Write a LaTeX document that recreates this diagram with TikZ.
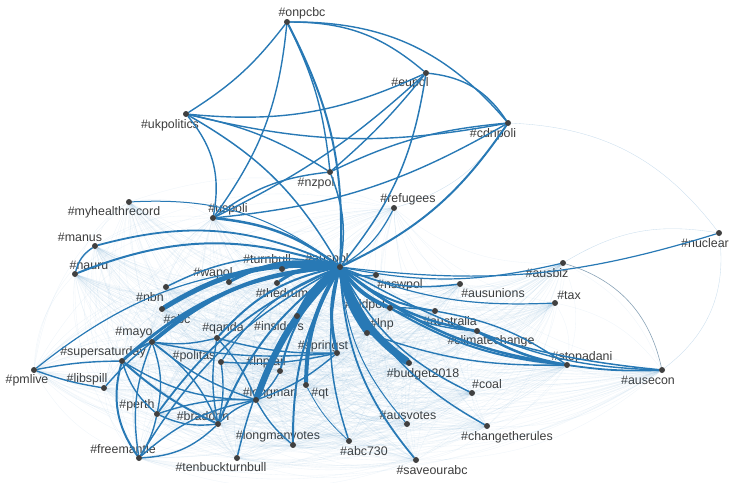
\documentclass[tikz,border=0pt]{standalone}
\usepackage{fontspec}
\setmainfont{Liberation Sans}
\usetikzlibrary{backgrounds}
\definecolor{edgeblue}{RGB}{40,121,181}
\definecolor{dotgray}{RGB}{64,64,64}
\definecolor{lblgray}{RGB}{60,60,60}
\pgfdeclarelayer{lbllayer}
\pgfdeclarelayer{edgelayer}
\pgfsetlayers{lbllayer,edgelayer,main}
\tikzset{
  dot/.style={circle,fill=dotgray,inner sep=0pt,minimum size=6pt},
  lbl/.style={text=lblgray,inner sep=0pt,font=\fontsize{12.4}{14}\selectfont},
  tie/.style={draw=edgeblue,line width=1.4pt,line cap=round},
  faint/.style={draw=edgeblue,line width=0.35pt,opacity=0.08},
  pale/.style={draw=edgeblue!45!gray,line width=0.6pt,opacity=0.7}
}
\begin{document}
\begin{tikzpicture}[x=1pt,y=-1pt,line join=round]
\useasboundingbox (0,0) rectangle (754,482);
% hashtag dots
\node[dot] (auspol) at (340,267) {};
\node[dot] (onpcbc) at (287,22) {};
\node[dot] (eupol) at (426,73) {};
\node[dot] (ukpolitics) at (186,114) {};
\node[dot] (cdnpoli) at (508,123) {};
\node[dot] (nzpol) at (330,172) {};
\node[dot] (refugees) at (394,208) {};
\node[dot] (uspoli) at (213,218) {};
\node[dot] (myhealthrecord) at (129,202) {};
\node[dot] (manus) at (95,246) {};
\node[dot] (nauru) at (75,274) {};
\node[dot] (nbn) at (166,287) {};
\node[dot] (wapol) at (229,282) {};
\node[dot] (turnbull) at (282,269) {};
\node[dot] (thedrum) at (277,283) {};
\node[dot] (abc) at (162,309) {};
\node[dot] (mayo) at (152,342) {};
\node[dot] (qanda) at (217,338) {};
\node[dot] (insiders) at (297,316) {};
\node[dot] (politas) at (221,362) {};
\node[dot] (lnpfail) at (280,371) {};
\node[dot] (springst) at (337,353) {};
\node[dot] (qt) at (306,385) {};
\node[dot] (longman) at (256,400) {};
\node[dot] (supersaturday) at (122,361) {};
\node[dot] (pmlive) at (34,370) {};
\node[dot] (libspill) at (104,388) {};
\node[dot] (perth) at (157,414) {};
\node[dot] (braddon) at (218,424) {};
\node[dot] (freemantle) at (139,458) {};
\node[dot] (tenbuckturnbull) at (237,458) {};
\node[dot] (longmanvotes) at (293,445) {};
\node[dot] (abc730) at (349,441) {};
\node[dot] (nswpol) at (376,275) {};
\node[dot] (ausunions) at (460,284) {};
\node[dot] (qldpol) at (390,308) {};
\node[dot] (australia) at (435,311) {};
\node[dot] (lnp) at (367,333) {};
\node[dot] (climatechange) at (477,331) {};
\node[dot] (budget2018) at (409,363) {};
\node[dot] (coal) at (472,393) {};
\node[dot] (ausvotes) at (407,424) {};
\node[dot] (saveourabc) at (416,460) {};
\node[dot] (changetherules) at (487,426) {};
\node[dot] (stopadani) at (567,365) {};
\node[dot] (ausecon) at (662,370) {};
\node[dot] (tax) at (555,303) {};
\node[dot] (ausbiz) at (563,263) {};
\node[dot] (nuclear) at (719,233) {};

% labels, under the edges
\begin{pgfonlayer}{lbllayer}
\node[lbl] (auspol-l) at (327,259) {\#auspol};
\node[lbl] (onpcbc-l) at (302,13) {\#onpcbc};
\node[lbl] (eupol-l) at (410,83) {\#eupol};
\node[lbl] (ukpolitics-l) at (170,125) {\#ukpolitics};
\node[lbl] (cdnpoli-l) at (493,134) {\#cdnpoli};
\node[lbl] (nzpol-l) at (316,183) {\#nzpol};
\node[lbl] (refugees-l) at (408,199) {\#refugees};
\node[lbl] (uspoli-l) at (228,209) {\#uspoli};
\node[lbl] (myhealthrecord-l) at (114,212) {\#myhealthrecord};
\node[lbl] (manus-l) at (80,237) {\#manus};
\node[lbl] (nauru-l) at (89,265) {\#nauru};
\node[lbl] (nbn-l) at (150,297) {\#nbn};
\node[lbl] (wapol-l) at (213,273) {\#wapol};
\node[lbl] (turnbull-l) at (267,259) {\#turnbull};
\node[lbl] (thedrum-l) at (282,293) {\#thedrum};
\node[lbl] (abc-l) at (177,319) {\#abc};
\node[lbl] (mayo-l) at (134,333) {\#mayo};
\node[lbl] (qanda-l) at (223,328) {\#qanda};
\node[lbl] (insiders-l) at (279,326) {\#insiders};
\node[lbl] (politas-l) at (194,356) {\#politas};
\node[lbl] (lnpfail-l) at (266,362) {\#lnpfail};
\node[lbl] (springst-l) at (323,346) {\#springst};
\node[lbl] (qt-l) at (320,394) {\#qt};
\node[lbl] (longman-l) at (270,393) {\#longman};
\node[lbl] (supersaturday-l) at (103,352) {\#supersaturday};
\node[lbl] (pmlive-l) at (27,380) {\#pmlive};
\node[lbl] (libspill-l) at (87,379) {\#libspill};
\node[lbl] (perth-l) at (137,405) {\#perth};
\node[lbl] (braddon-l) at (203,416) {\#braddon};
\node[lbl] (freemantle-l) at (123,449) {\#freemantle};
\node[lbl] (tenbuckturnbull-l) at (221,467) {\#tenbuckturnbull};
\node[lbl] (longmanvotes-l) at (278,436) {\#longmanvotes};
\node[lbl] (abc730-l) at (364,451) {\#abc730};
\node[lbl] (nswpol-l) at (400,285) {\#nswpol};
\node[lbl] (ausunions-l) at (493,293) {\#ausunions};
\node[lbl] (qldpol-l) at (365,305) {\#qldpol};
\node[lbl] (australia-l) at (450,321) {\#australia};
\node[lbl] (lnp-l) at (382,324) {\#lnp};
\node[lbl] (climatechange-l) at (491,341) {\#climatechange};
\node[lbl] (budget2018-l) at (423,374) {\#budget2018};
\node[lbl] (coal-l) at (487,384) {\#coal};
\node[lbl] (ausvotes-l) at (408,415) {\#ausvotes};
\node[lbl] (saveourabc-l) at (432,470) {\#saveourabc};
\node[lbl] (changetherules-l) at (507,437) {\#changetherules};
\node[lbl] (stopadani-l) at (582,357) {\#stopadani};
\node[lbl] (ausecon-l) at (648,380) {\#ausecon};
\node[lbl] (tax-l) at (569,295) {\#tax};
\node[lbl] (ausbiz-l) at (547,273) {\#ausbiz};
\node[lbl] (nuclear-l) at (705,243) {\#nuclear};
\end{pgfonlayer}

\begin{pgfonlayer}{edgelayer}
% the pale web behind everything
\def\webnodes{auspol,uspoli,refugees,myhealthrecord,manus,nauru,nbn,wapol,turnbull,thedrum,abc,mayo,qanda,insiders,politas,lnpfail,springst,qt,longman,supersaturday,pmlive,libspill,perth,braddon,freemantle,tenbuckturnbull,longmanvotes,abc730,nswpol,ausunions,qldpol,australia,lnp,climatechange,budget2018,coal,ausvotes,saveourabc,changetherules,stopadani,ausecon,tax,ausbiz}
\foreach \a [count=\i] in \webnodes {
  \foreach \b [count=\j] in \webnodes {
    \ifnum\j>\i \draw[faint] (\a) to[bend right=20] (\b); \fi
  }
}
\draw[faint,opacity=0.25] (nuclear) to[bend right=25] (cdnpoli);
\draw[faint,opacity=0.25] (nuclear) to[bend left=30] (ausecon);
\draw[faint,opacity=0.25] (nuclear) to[bend right=20] (ausbiz);
\draw[faint,opacity=0.25] (cdnpoli) to[bend left=20] (refugees);

% top cluster
\draw[tie] (cdnpoli) to[bend right=25] (onpcbc);
\draw[tie] (eupol) to[bend right=20] (onpcbc);
\draw[tie] (cdnpoli) to[bend right=25] (eupol);
\draw[tie] (ukpolitics) to[bend right=10] (onpcbc);
\draw[tie] (onpcbc) to[bend left=15] (uspoli);
\draw[tie] (onpcbc) to[bend left=10] (nzpol);
\draw[tie] (eupol) to[bend left=15] (ukpolitics);
\draw[tie] (cdnpoli) to[bend left=12] (ukpolitics);
\draw[tie] (eupol) to[bend left=5] (nzpol);
\draw[tie] (eupol) to[bend left=8] (uspoli);
\draw[tie] (cdnpoli) to[bend right=10] (nzpol);
\draw[tie] (cdnpoli) to[bend left=12] (uspoli);
\draw[tie] (ukpolitics) to[bend left=25] (uspoli);
\draw[tie] (ukpolitics) to[bend left=10] (nzpol);
\draw[tie] (uspoli) to[bend left=15] (nzpol);

% everything that hangs off auspol
\draw[tie,line width=7.5pt] (auspol) to[bend right=18] (budget2018);
\draw[tie,line width=6.5pt] (auspol) to[bend right=12] (longman);
\draw[tie,line width=5pt] (auspol) to[bend right=18] (abc);
\draw[tie,line width=5pt] (auspol) to[bend right=12] (lnp);
\draw[tie,line width=4pt] (auspol) to[bend right=15] (qldpol);
\draw[tie,line width=4pt] (auspol) to[bend right=15] (insiders);
\draw[tie,line width=4pt] (auspol) to[bend right=15] (qt);
\draw[tie,line width=3pt] (auspol) to[bend right=15] (springst);
\draw[tie,line width=3pt] (auspol) to[bend right=20] (thedrum);
\draw[tie,line width=3pt] (auspol) to[bend right=20] (turnbull);
\draw[tie,line width=3pt] (auspol) to[bend right=20] (wapol);
\draw[tie,line width=4pt] (auspol) to[bend right=18] (mayo);
\draw[tie,line width=3pt] (auspol) to[bend right=18] (supersaturday);
\draw[tie,line width=1.5pt] (auspol) to[bend right=20] (nbn);
\draw[tie,line width=2pt] (auspol) to[bend right=20] (nauru);
\draw[tie,line width=1.8pt] (auspol) to[bend right=20] (manus);
\draw[tie,line width=1pt] (auspol) to[bend right=20] (myhealthrecord);
\draw[tie,line width=2.5pt] (auspol) to[bend right=15] (uspoli);
\draw[tie,line width=1.5pt] (auspol) to[bend right=15] (ukpolitics);
\draw[tie,line width=2pt] (auspol) to[bend right=15] (onpcbc);
\draw[tie,line width=1.5pt] (auspol) to[bend right=15] (eupol);
\draw[tie,line width=2pt] (auspol) to[bend right=15] (cdnpoli);
\draw[tie,line width=1.5pt] (auspol) to[bend right=15] (nzpol);
\draw[tie,line width=1.2pt] (auspol) to[bend right=15] (refugees);
\draw[tie,line width=1.5pt] (auspol) to[bend right=20] (nswpol);
\draw[tie,line width=1.5pt] (auspol) to[bend right=15] (ausunions);
\draw[tie,line width=2pt] (auspol) to[bend right=15] (australia);
\draw[tie,line width=2.5pt] (auspol) to[bend right=15] (climatechange);
\draw[tie,line width=2.5pt] (auspol) to[bend right=15] (stopadani);
\draw[tie,line width=1.5pt] (auspol) to[bend right=12] (ausecon);
\draw[tie,line width=1.2pt] (auspol) to[bend right=12] (tax);
\draw[tie,line width=1.2pt] (auspol) to[bend right=12] (ausbiz);
\draw[tie,line width=1.2pt] (auspol) to[bend right=12] (nuclear);
\draw[tie,line width=1.5pt] (auspol) to[bend right=18] (coal);
\draw[tie,line width=1.5pt] (auspol) to[bend right=18] (changetherules);
\draw[tie,line width=1pt] (auspol) to[bend right=18] (ausvotes);
\draw[tie,line width=1.8pt] (auspol) to[bend right=18] (saveourabc);
\draw[tie,line width=1.5pt] (auspol) to[bend right=15] (abc730);
\draw[tie,line width=2pt] (auspol) to[bend right=15] (longmanvotes);
\draw[tie,line width=1.5pt] (auspol) to[bend right=15] (tenbuckturnbull);
\draw[tie,line width=2pt] (auspol) to[bend right=15] (lnpfail);
\draw[tie,line width=2pt] (auspol) to[bend right=18] (qanda);
\draw[tie,line width=1.2pt] (auspol) to[bend right=18] (politas);
\draw[tie,line width=2pt] (auspol) to[bend right=15] (braddon);
\draw[tie,line width=1.8pt] (auspol) to[bend right=15] (perth);
\draw[tie,line width=1.5pt] (auspol) to[bend right=15] (freemantle);
\draw[tie,line width=1.2pt] (auspol) to[bend right=20] (pmlive);

% by-election corner
\draw[tie] (manus) to[bend right=20] (nauru);
\draw[tie] (pmlive) to[bend left=5] (supersaturday);
\draw[tie] (pmlive) to[bend right=5] (libspill);
\draw[tie] (libspill) to[bend left=5] (mayo);
\draw[tie,line width=2pt] (supersaturday) to[bend right=25] (freemantle);
\draw[tie] (supersaturday) to[bend right=15] (perth);
\draw[tie,line width=2pt] (supersaturday) to[bend right=8] (braddon);
\draw[tie] (supersaturday) to[bend right=15] (longman);
\draw[tie,line width=2pt] (mayo) to[bend right=10] (supersaturday);
\draw[tie] (mayo) to[bend left=15] (perth);
\draw[tie] (mayo) to[bend left=15] (braddon);
\draw[tie] (mayo) to[bend right=10] (longman);
\draw[tie] (mayo) to[bend right=15] (freemantle);
\draw[tie] (mayo) to[bend right=8] (springst);
\draw[tie] (perth) to[bend right=15] (braddon);
\draw[tie] (perth) to[bend left=10] (freemantle);
\draw[tie] (perth) to[bend left=10] (longman);
\draw[tie] (braddon) to[bend left=12] (longman);
\draw[tie] (freemantle) to[bend right=20] (braddon);
\draw[tie] (freemantle) to[bend left=15] (longman);
\draw[tie] (longman) to[bend right=10] (longmanvotes);
\draw[tie] (qanda) to[bend left=10] (mayo);
\draw[tie] (qanda) to[bend left=10] (longman);
\draw[tie] (qanda) to[bend right=10] (braddon);
\draw[tie] (qanda) to[bend right=8] (springst);
\draw[tie] (politas) to[bend left=10] (braddon);
\draw[tie] (politas) to[bend right=8] (springst);
\draw[tie] (lnpfail) to[bend left=10] (longman);
\draw[tie] (springst) to[bend left=10] (longman);
\draw[tie,line width=0.8pt] (qt) to[bend right=10] (abc730);

% stopadani corner
\draw[tie,line width=2pt] (qldpol) to[bend right=12] (stopadani);
\draw[tie,line width=2.5pt] (climatechange) to[bend right=10] (stopadani);
\draw[tie] (australia) to[bend left=12] (stopadani);
\draw[tie] (qldpol) to[bend right=10] (climatechange);
\draw[tie] (climatechange) to[bend right=10] (ausecon);
\draw[tie,line width=1.8pt] (stopadani) to[bend right=5] (ausecon);
\draw[tie] (qldpol) to[bend left=5] (australia);
\draw[tie] (lnp) to[bend right=10] (stopadani);
\draw[pale] (ausbiz) to[bend left=30] (ausecon);
\end{pgfonlayer}
\end{tikzpicture}
\end{document}
